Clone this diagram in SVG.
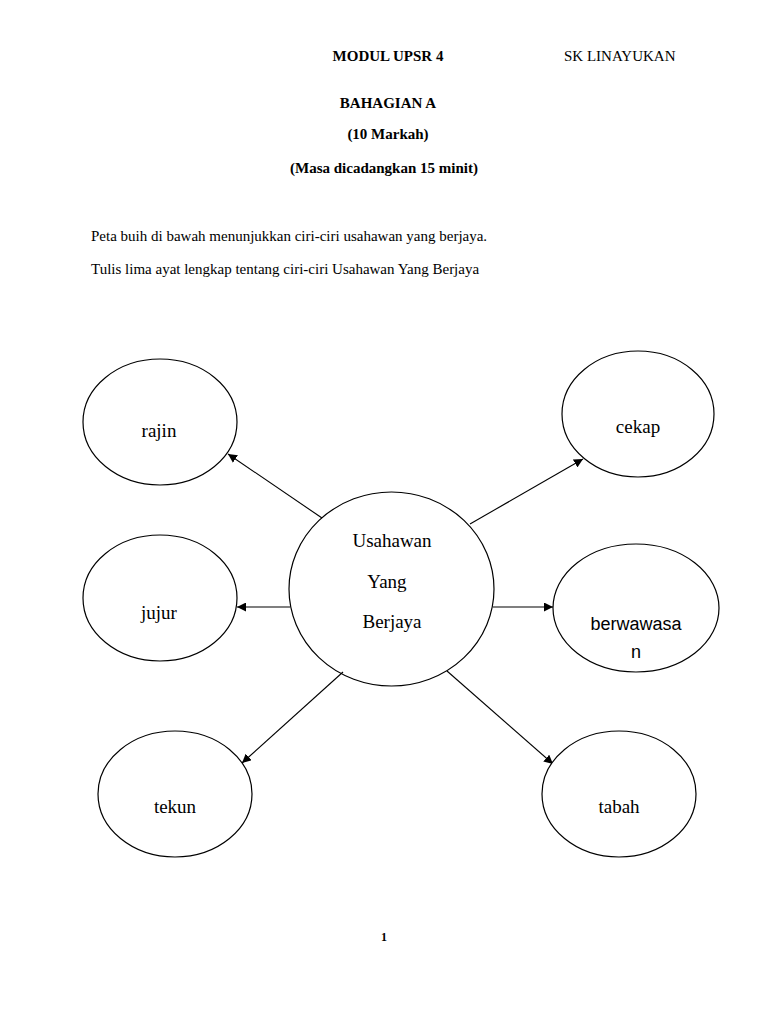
<svg xmlns="http://www.w3.org/2000/svg" width="768" height="1024" viewBox="0 0 768 1024">
<style>
.hd{font-family:"Liberation Serif","Times New Roman",serif;font-size:15px;fill:#000}
.b{font-weight:bold}
.lbl{font-family:"Liberation Serif","Times New Roman",serif;font-size:19px;fill:#000;text-anchor:middle}
.sans{font-family:"Liberation Sans",Arial,sans-serif;font-size:18px;fill:#000;text-anchor:middle}
.node{fill:#fff;stroke:#000;stroke-width:1.2}
.edge{stroke:#000;stroke-width:1.1;fill:none;marker-end:url(#ah)}
</style>
<defs>
<marker id="ah" viewBox="0 0 10 10" refX="10" refY="5" markerWidth="9" markerHeight="9" markerUnits="userSpaceOnUse" orient="auto">
<path d="M0,0 L10,5 L0,10 z" fill="#000"/>
</marker>
</defs>
<rect width="768" height="1024" fill="#fff"/>
<g id="header">
<text class="hd b" x="388" y="61" text-anchor="middle">MODUL UPSR 4</text>
<text class="hd" x="564" y="61">SK LINAYUKAN</text>
<text class="hd b" x="388" y="108" text-anchor="middle">BAHAGIAN A</text>
<text class="hd b" x="388" y="139" text-anchor="middle">(10 Markah)</text>
<text class="hd b" x="384" y="173" text-anchor="middle">(Masa dicadangkan 15 minit)</text>
<text class="hd" x="91" y="241">Peta buih di bawah menunjukkan ciri-ciri usahawan yang berjaya.</text>
<text class="hd" x="91" y="274">Tulis lima ayat lengkap tentang ciri-ciri Usahawan Yang Berjaya</text>
</g>
<g id="center">
<ellipse class="node" cx="391.5" cy="589" rx="102.5" ry="97"/>
<text class="lbl" x="392" y="547">Usahawan</text>
<text class="lbl" x="387" y="588">Yang</text>
<text class="lbl" x="392" y="628">Berjaya</text>
</g>
<g id="connectors">
<line class="edge" x1="322" y1="518" x2="228" y2="454"/>
<line class="edge" x1="470" y1="524" x2="583" y2="459"/>
<line class="edge" x1="290" y1="607" x2="237" y2="607"/>
<line class="edge" x1="493" y1="607" x2="553" y2="607"/>
<line class="edge" x1="343" y1="672" x2="242" y2="763"/>
<line class="edge" x1="447" y1="671" x2="553" y2="764"/>
</g>
<g id="rajin">
<ellipse class="node" cx="160" cy="422" rx="77" ry="63"/>
<text class="lbl" x="159" y="437">rajin</text>
</g>
<g id="cekap">
<ellipse class="node" cx="638" cy="414" rx="76" ry="63"/>
<text class="lbl" x="638" y="433">cekap</text>
</g>
<g id="jujur">
<ellipse class="node" cx="160" cy="598" rx="77" ry="63"/>
<text class="lbl" x="159" y="619">jujur</text>
</g>
<g id="berwawasan">
<ellipse class="node" cx="636" cy="608" rx="83" ry="64"/>
<text class="sans" x="636" y="630">berwawasa</text>
<text class="sans" x="636" y="658">n</text>
</g>
<g id="tekun">
<ellipse class="node" cx="175" cy="794" rx="77" ry="63"/>
<text class="lbl" x="175" y="813">tekun</text>
</g>
<g id="tabah">
<ellipse class="node" cx="619" cy="794" rx="77" ry="63"/>
<text class="lbl" x="619" y="813">tabah</text>
</g>
<text class="hd b" x="384" y="941" text-anchor="middle" style="font-size:12px">1</text>
</svg>
